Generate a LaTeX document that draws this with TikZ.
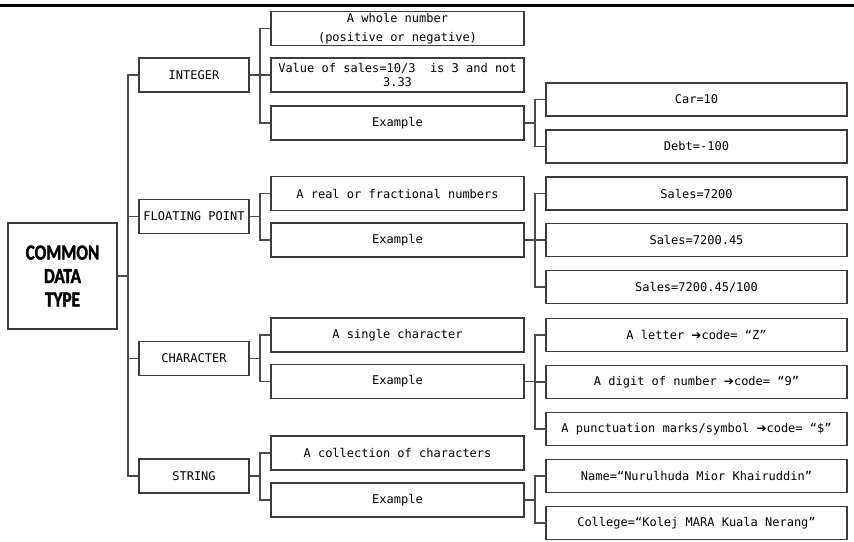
\documentclass[tikz,border=0pt]{standalone}
\usepackage{fontspec}
\setmonofont{DejaVu Sans Mono}
\newfontfamily\rootfont{Carlito}[UprightFont={* Bold}, FakeStretch=0.8, FakeBold=1.6]
\newfontfamily\arrowfont{DejaVu Sans}
\newcommand{\codearrow}{{\arrowfont\fontsize{12}{14}\selectfont ➔}}
\usetikzlibrary{calc}

\definecolor{boxgray}{HTML}{3C3C3C}
\definecolor{linkgray}{HTML}{4A4A4A}

\begin{document}
\begin{tikzpicture}[x=1pt,y=-1pt,
  box/.style={draw=boxgray, line width=1.2pt, fill=white, inner sep=0pt,
    align=center, font=\fontsize{12}{14}\selectfont\ttfamily},
  rootbox/.style={box, minimum width=109pt, minimum height=106pt,
    font=\rootfont\fontsize{21.5}{23.5}\selectfont},
  lvlone/.style={box, minimum width=110pt, minimum height=34pt},
  lvltwo/.style={box, minimum width=253pt, minimum height=34pt},
  lvlthree/.style={box, minimum width=301pt, minimum height=33pt},
  link/.style={draw=linkgray, line width=1.1pt},
  bracket/.style={to path={-- ($(\tikztostart)!0.5!(\tikztostart-|\tikztotarget)$) |- (\tikztotarget)}}
]
\useasboundingbox (0,0) rectangle (854,541);

% heading rule
\draw[line width=3.3pt] (0,5.6) -- (854,5.6);

% root
\node[rootbox] (root) at (62.5,276) {COMMON\\DATA\\TYPE};

% first level
\node[lvlone] (int)   at (194,75)    {INTEGER};
\node[lvlone] (flt)   at (194,216.5) {FLOATING POINT};
\node[lvlone] (chr)   at (194,358.5) {CHARACTER};
\node[lvlone] (str)   at (194,476)   {STRING};

% second level
\node[lvltwo] (intA)  at (397.5,28.5)  {A whole number\\[5pt](positive or negative)};
\node[lvltwo] (intB)  at (397.5,75)    {Value of sales=10/3~ is 3 and not\\3.33};
\node[lvltwo] (intEx) at (397.5,123)   {Example};
\node[lvltwo] (fltA)  at (397.5,193.5) {A real or fractional numbers};
\node[lvltwo] (fltEx) at (397.5,240)   {Example};
\node[lvltwo] (chrA)  at (397.5,335)   {A single character};
\node[lvltwo] (chrEx) at (397.5,381.5) {Example};
\node[lvltwo] (strA)  at (397.5,453)   {A collection of characters};
\node[lvltwo] (strEx) at (397.5,500)   {Example};

% third level
\node[lvlthree] (car)   at (696.5,99.5)  {Car=10};
\node[lvlthree] (debt)  at (696.5,146.5) {Debt=-100};
\node[lvlthree] (salA)  at (696.5,193.5) {Sales=7200};
\node[lvlthree] (salB)  at (696.5,240)   {Sales=7200.45};
\node[lvlthree] (salC)  at (696.5,287)   {Sales=7200.45/100};
\node[lvlthree] (let)   at (696.5,335)   {A letter \codearrow code= “Z”};
\node[lvlthree] (dig)   at (696.5,382)   {A digit of number \codearrow code= “9”};
\node[lvlthree] (pun)   at (696.5,429)   {A punctuation marks/symbol \codearrow code= “\$”};
\node[lvlthree] (name)  at (696.5,476)   {Name=“Nurulhuda Mior Khairuddin”};
\node[lvlthree] (coll)  at (696.5,523)   {College=“Kolej MARA Kuala Nerang”};

% connectors
\foreach \t in {int,flt,chr,str}
  \draw[link] (root.east) to[bracket] (\t.west);
\foreach \t in {intA,intB,intEx}
  \draw[link] (int.east) to[bracket] (\t.west);
\foreach \t in {fltA,fltEx}
  \draw[link] (flt.east) to[bracket] (\t.west);
\foreach \t in {chrA,chrEx}
  \draw[link] (chr.east) to[bracket] (\t.west);
\foreach \t in {strA,strEx}
  \draw[link] (str.east) to[bracket] (\t.west);
\foreach \t in {car,debt}
  \draw[link] (intEx.east) to[bracket] (\t.west);
\foreach \t in {salA,salB,salC}
  \draw[link] (fltEx.east) to[bracket] (\t.west);
\foreach \t in {let,dig,pun}
  \draw[link] (chrEx.east) to[bracket] (\t.west);
\foreach \t in {name,coll}
  \draw[link] (strEx.east) to[bracket] (\t.west);
\end{tikzpicture}
\end{document}
